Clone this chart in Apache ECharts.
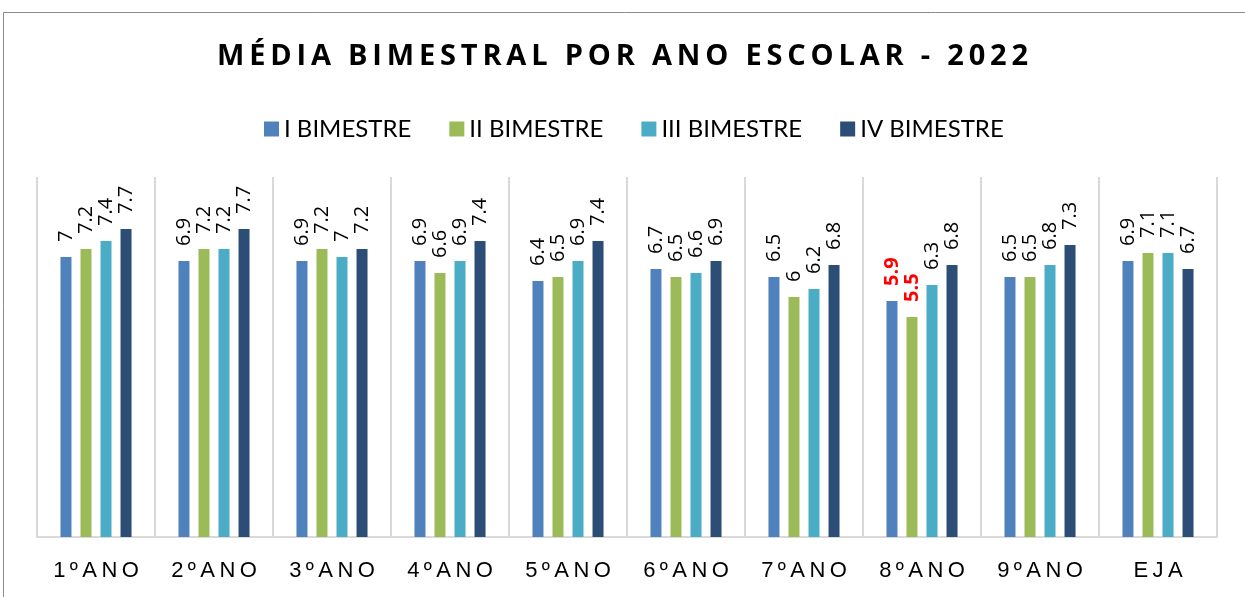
<!DOCTYPE html>
<html>
<head>
<meta charset="utf-8">
<script src="https://cdn.jsdelivr.net/npm/echarts@6/dist/echarts.min.js"></script>
<style>
  html, body { margin: 0; padding: 0; background: #fff; }
  #chart { width: 1245px; height: 597px; }
</style>
</head>
<body>
<div id="chart"></div>
<script>
const categories = ['1ºANO', '2ºANO', '3ºANO', '4ºANO', '5ºANO', '6ºANO', '7ºANO', '8ºANO', '9ºANO', 'EJA'];
const seriesNames = ['I BIMESTRE', 'II BIMESTRE', 'III BIMESTRE', 'IV BIMESTRE'];
const bim1 = [7, 6.9, 6.9, 6.9, 6.4, 6.7, 6.5, 5.9, 6.5, 6.9];
const bim2 = [7.2, 7.2, 7.2, 6.6, 6.5, 6.5, 6, 5.5, 6.5, 7.1];
const bim3 = [7.4, 7.2, 7, 6.9, 6.9, 6.6, 6.2, 6.3, 6.8, 7.1];
const bim4 = [7.7, 7.7, 7.2, 7.4, 7.4, 6.9, 6.8, 6.8, 7.3, 6.7];
// values shown in red bold in the original (below 6)
const highlightBelow = 6;

const colors = ['#4F81BD', '#9BBB59', '#4BACC6', '#2C4D75'];
const font = '"Open Sans", Lato, sans-serif';

// wide letter spacing like the original
function spaced(s) {
  return s.split('').join('\u2009');
}

function makeSeries(name, values, color) {
  return {
    name: name,
    type: 'bar',
    barWidth: 11,
    barGap: '82%',
    itemStyle: { color: color },
    data: values.map(v => {
      const item = { value: v };
      if (v < highlightBelow) {
        item.label = { color: '#FF0000', fontWeight: 'bold' };
      }
      return item;
    }),
    label: {
      show: true,
      position: 'top',
      rotate: 90,
      align: 'left',
      verticalAlign: 'middle',
      distance: 15,
      fontSize: 20,
      fontFamily: font,
      color: '#000'
    }
  };
}

const chart = echarts.init(document.getElementById('chart'), null, { renderer: 'canvas' });
chart.setOption({
  animation: false,
  color: colors,
  title: {
    text: spaced('MÉDIA BIMESTRAL POR ANO ESCOLAR - 2022'),
    left: 'center',
    top: 37,
    textStyle: { fontFamily: font, fontSize: 29, fontWeight: 'bold', color: '#000' }
  },
  legend: {
    top: 112,
    left: 259,
    itemWidth: 15,
    itemHeight: 15,
    itemGap: 38,
    icon: 'rect',
    textStyle: { fontFamily: 'Lato, sans-serif', fontSize: 24, color: '#000' },
    data: seriesNames
  },
  graphic: [{
    type: 'rect',
    shape: { x: 3.5, y: 12.5, width: 1300, height: 700 },
    style: { fill: 'none', stroke: '#8c8c8c', lineWidth: 1 },
    silent: true
  }],
  grid: { left: 37, right: 28, top: 177, bottom: 60 },
  xAxis: {
    type: 'category',
    data: categories,
    axisLine: { show: true, lineStyle: { color: '#d9d9d9', width: 2 } },
    axisTick: { show: false },
    splitLine: { show: true, interval: 0, lineStyle: { color: '#d9d9d9', width: 2 } },
    axisLabel: {
      interval: 0,
      margin: 23,
      fontFamily: '"Liberation Sans", Arial, sans-serif',
      fontSize: 22,
      color: '#000',
      formatter: v => spaced(v)
    }
  },
  yAxis: {
    type: 'value',
    min: 0,
    max: 9,
    show: false
  },
  series: [
    makeSeries(seriesNames[0], bim1, colors[0]),
    makeSeries(seriesNames[1], bim2, colors[1]),
    makeSeries(seriesNames[2], bim3, colors[2]),
    makeSeries(seriesNames[3], bim4, colors[3])
  ]
});
</script>
</body>
</html>
